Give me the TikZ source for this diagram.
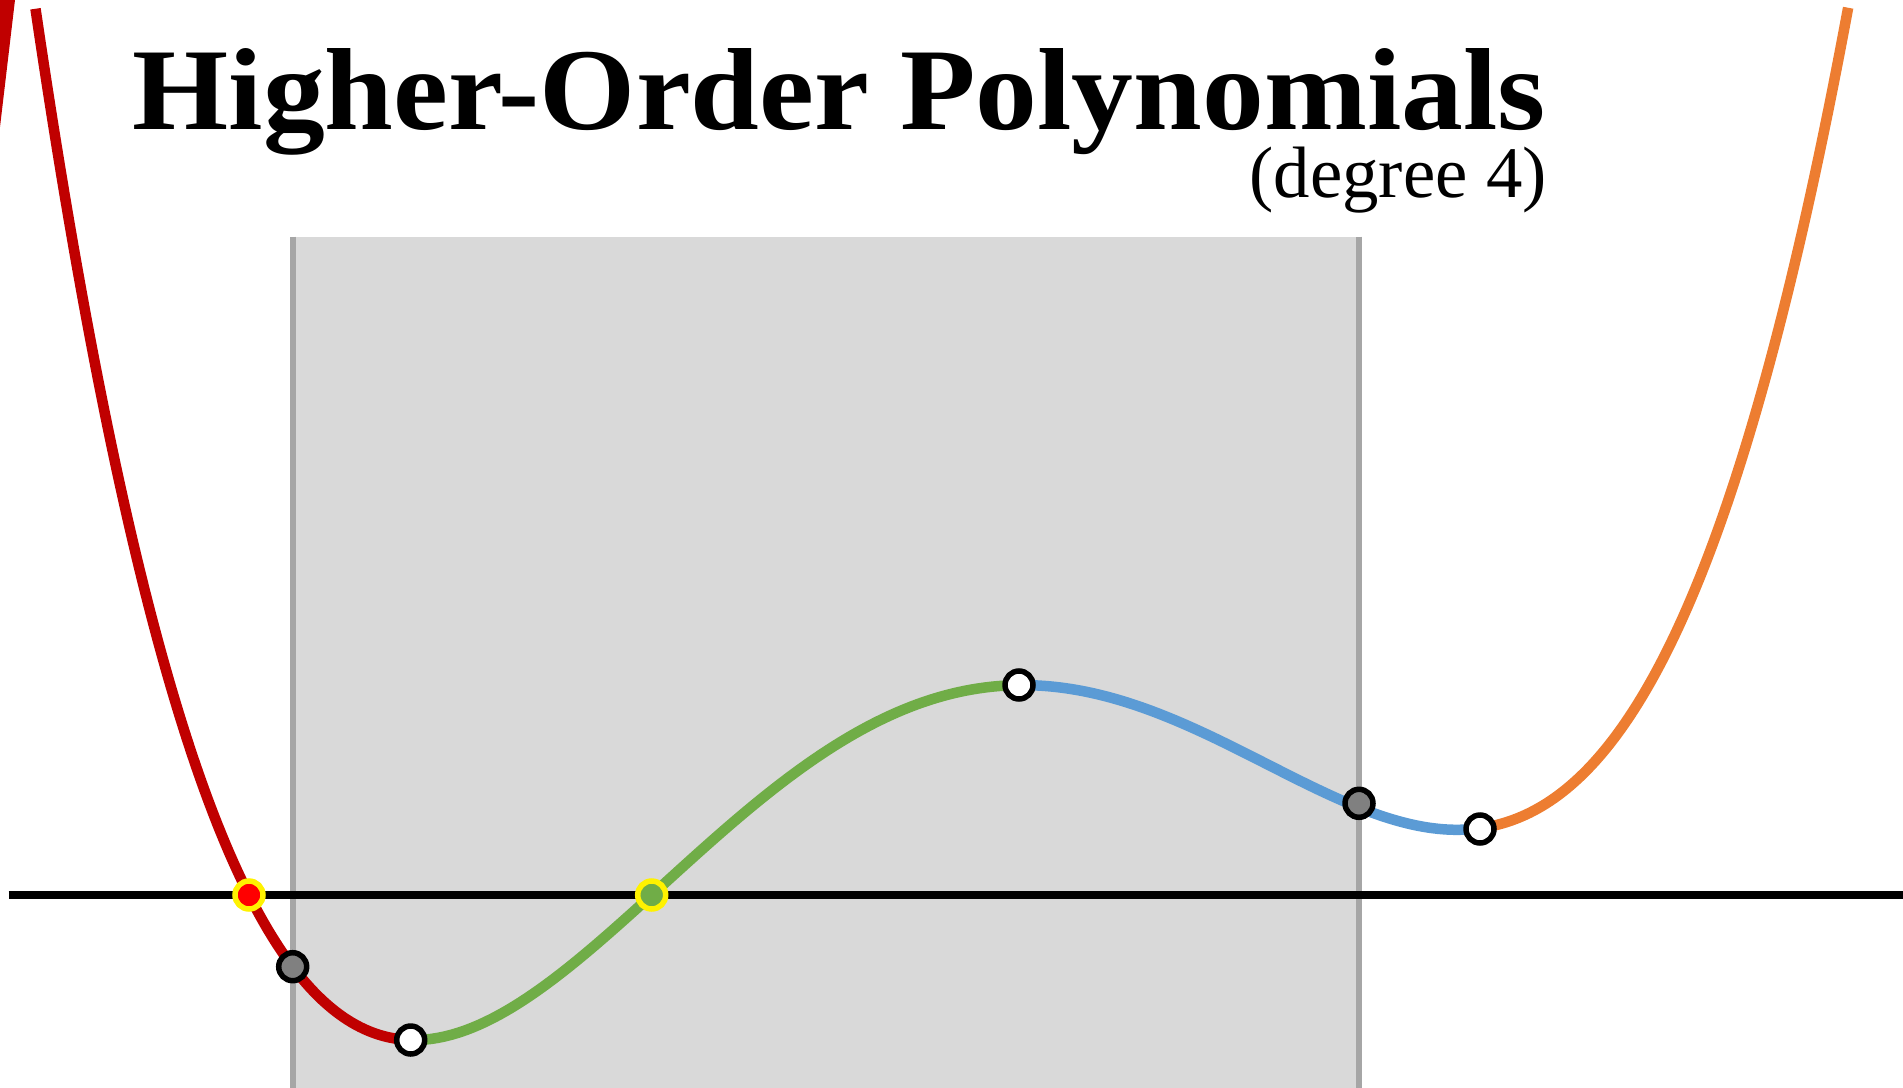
\documentclass[tikz,border=0pt]{standalone}
\usepackage{fontspec}
\setmainfont{Liberation Serif}
\usepackage{graphicx}
\definecolor{cred}{HTML}{C00000}
\definecolor{cgreen}{HTML}{70AD47}
\definecolor{cblue}{HTML}{5B9BD5}
\definecolor{corange}{HTML}{ED7D31}
\definecolor{bandfill}{HTML}{D9D9D9}
\definecolor{bandline}{HTML}{A6A6A6}
\definecolor{dotgray}{HTML}{808080}
\tikzset{
  curve/.style={line width=0.21cm},
  dotbase/.style={circle, inner sep=0pt, minimum size=0.56cm, line width=0.11cm},
  wdot/.style={dotbase, draw=black, fill=white},
  gdot/.style={dotbase, draw=black, fill=dotgray},
  ydot/.style={dotbase, draw=yellow, fill=#1},
}
\begin{document}
\begin{tikzpicture}[x=0.02cm, y=-0.02cm,
  declare function={
    uu(\t)=(\t-1019)/100;
    vv(\t)=0.003206*((((uu(\t)+2.183)*uu(\t)-53.08)*uu(\t)+3.5)*uu(\t)+655);
    yy(\t)=895-100*vv(\t);
  }]
\useasboundingbox (0,0) rectangle (1903,1088);
% band
\fill[bandfill] (290,236.7) rectangle (1361,1088);
\coordinate (bl1) at (293,236.7);
\coordinate (bl2) at (293,1088);
\coordinate (br1) at (1359,236.7);
\coordinate (br2) at (1359,1088);
\draw[bandline, line width=0.12cm] (bl1) -- (bl2);
\draw[bandline, line width=0.12cm] (br1) -- (br2);
% axis
\coordinate (axl) at (8.5,895);
\coordinate (axr) at (1903,895);
\draw[black, line width=0.16cm] (axl) -- (axr);
% wedge
\fill[cred] (0,0) -- (15,0) -- (0,127) -- cycle;
% curve
\draw[curve, cred, variable=\t, domain=35.5:410.7, samples=90] plot ({\t},{yy(\t)});
\draw[curve, cgreen, variable=\t, domain=410.7:1019, samples=90] plot ({\t},{yy(\t)});
\draw[curve, cblue, variable=\t, domain=1019:1480, samples=90] plot ({\t},{yy(\t)});
\draw[curve, corange, variable=\t, domain=1480:1835, samples=90] plot ({1480+1.037*(\t-1480)},{yy(\t)});
% dots
\node[ydot=red] (r1) at (249,895) {};
\node[ydot=cgreen] (r2) at (651.7,895) {};
\node[gdot] (g1) at (292.7,966.7) {};
\node[gdot] (g2) at (1359,803.3) {};
\node[wdot] (m1) at (410.7,1040) {};
\node[wdot] (m2) at (1019,685) {};
\node[wdot] (m3) at (1480,829) {};
% title
\node[anchor=base east, inner sep=0pt] (title) at (1546,130)
  {\resizebox{28.26cm}{1.62cm}{\bfseries Higher-Order Polynomials}};
\node[anchor=base east, inner sep=0pt] (sub) at (1547,197)
  {\resizebox{5.94cm}{!}{(degree 4)}};
\end{tikzpicture}
\end{document}
